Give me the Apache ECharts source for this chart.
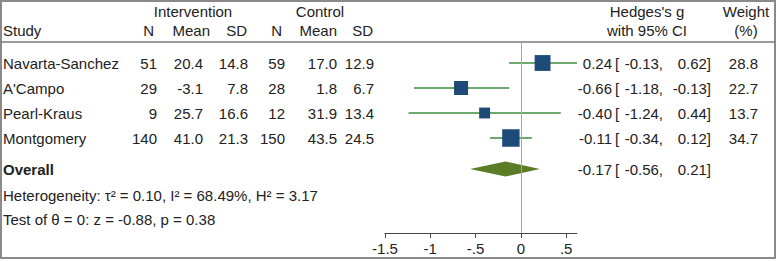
<!DOCTYPE html>
<html>
<head>
<meta charset="utf-8">
<script src="https://cdn.jsdelivr.net/npm/echarts@6/dist/echarts.min.js"></script>
<style>
  html, body { margin: 0; padding: 0; background: #fff; }
  #chart { width: 777px; height: 261px; }
</style>
</head>
<body>
<div id="chart"></div>
<script>
// studies
const studies = ['Navarta-Sanchez', "A'Campo", 'Pearl-Kraus', 'Montgomery'];
// intervention group
const intN = [51, 29, 9, 140];
const intMean = [20.4, -3.1, 25.7, 41.0];
const intSD = [14.8, 7.8, 16.6, 21.3];
// control group
const ctlN = [59, 28, 12, 150];
const ctlMean = [17.0, 1.8, 31.9, 43.5];
const ctlSD = [12.9, 6.7, 13.4, 24.5];
// Hedges's g with 95% CI, weight (%)
const hedgesG = [0.24, -0.66, -0.40, -0.11];
const ciLow = [-0.13, -1.18, -1.24, -0.34];
const ciHigh = [0.62, -0.13, 0.44, 0.12];
const weights = [28.8, 22.7, 13.7, 34.7];
// overall: estimate, low, high
const overall = [-0.17, -0.56, 0.21];
const heterogeneity = 'Heterogeneity: τ² = 0.10, I² = 68.49%, H² = 3.17';
const testText = 'Test of θ = 0: z = -0.88, p = 0.38';
// axis
const xTicks = [-1.5, -1, -0.5, 0, 0.5];
const xTickLabels = ['-1.5', '-1', '-.5', '0', '.5'];

const FONT = '15px "Liberation Sans", Arial, sans-serif';
const BOLD = 'bold 15px "Liberation Sans", Arial, sans-serif';
const TXT = '#222';
const overallRow = studies.length + 1.24;

function fmt(v, d) { return v.toFixed(d); }

function txt(x, y, s, align, font) {
    return {
        type: 'text', x: x, y: y, silent: true,
        style: {text: s, fill: TXT, font: font || FONT, align: align || 'left', verticalAlign: 'middle'}
    };
}

const chart = echarts.init(document.getElementById('chart'), null, {renderer: 'svg'});

const studyData = studies.map((s, i) => [hedgesG[i], i + 1, ciLow[i], ciHigh[i], weights[i], i]);

let option = {
    animation: false,
    grid: {left: 385, width: 192, top: 43, height: 190},
    xAxis: {
        type: 'value',
        min: -1.5,
        max: 0.62,
        splitLine: {show: false},
        axisLine: {show: true, onZero: false, lineStyle: {color: '#444', width: 1}},
        axisTick: {show: true, length: 5, customValues: xTicks, lineStyle: {color: '#444'}},
        axisLabel: {
            customValues: xTicks,
            margin: 8,
            color: TXT,
            fontSize: 15,
            fontFamily: '"Liberation Sans", Arial, sans-serif',
            formatter: v => xTickLabels[xTicks.findIndex(t => Math.abs(t - v) < 1e-6)]
        }
    },
    yAxis: {type: 'value', inverse: true, min: 0.2, max: 7.8, show: false},
    graphic: [
        // frame and header rule
        {type: 'rect', shape: {x: 1, y: 1, width: 774, height: 257}, style: {fill: 'none', stroke: '#8a8a8a', lineWidth: 2}, silent: true},
        {type: 'line', shape: {x1: 1, y1: 42, x2: 775, y2: 42}, style: {stroke: '#7a7a7a', lineWidth: 1.5}, silent: true},
        txt(193, 11, 'Intervention', 'center'),
        txt(320, 11, 'Control', 'center'),
        txt(647, 11, "Hedges's g", 'center'),
        txt(746, 11, 'Weight', 'center'),
        txt(3, 30, 'Study'),
        txt(154, 30, 'N', 'right'),
        txt(210, 30, 'Mean', 'right'),
        txt(247, 30, 'SD', 'right'),
        txt(282, 30, 'N', 'right'),
        txt(337, 30, 'Mean', 'right'),
        txt(373, 30, 'SD', 'right'),
        txt(647, 30, 'with 95% CI', 'center'),
        txt(746, 30, '(%)', 'center'),
        txt(3, 195, heterogeneity),
        txt(3, 219, testText)
    ],
    series: [{
        type: 'custom',
        clip: false,
        data: studyData,
        renderItem: function (params, api) {
            const i = api.value(5);
            const row = api.value(1);
            const c = api.coord([api.value(0), row]);
            const lo = api.coord([api.value(2), row])[0];
            const hi = api.coord([api.value(3), row])[0];
            const size = 2.95 * Math.sqrt(api.value(4));
            const y = c[1];
            return {
                type: 'group',
                children: [
                    {type: 'line', shape: {x1: lo, y1: y, x2: hi, y2: y}, style: {stroke: '#3d8b3d', lineWidth: 1.5}},
                    {type: 'rect', shape: {x: c[0] - size / 2, y: y - size / 2, width: size, height: size}, style: {fill: '#1d4a78'}},
                    txt(3, y, studies[i]),
                    txt(157, y, String(intN[i]), 'right'),
                    txt(203, y, fmt(intMean[i], 1), 'right'),
                    txt(248, y, fmt(intSD[i], 1), 'right'),
                    txt(285, y, String(ctlN[i]), 'right'),
                    txt(337, y, fmt(ctlMean[i], 1), 'right'),
                    txt(374, y, fmt(ctlSD[i], 1), 'right'),
                    txt(612, y, fmt(hedgesG[i], 2), 'right'),
                    txt(615, y, '['),
                    txt(663, y, fmt(ciLow[i], 2) + ',', 'right'),
                    txt(711, y, fmt(ciHigh[i], 2) + ']', 'right'),
                    txt(758, y, fmt(weights[i], 1), 'right')
                ]
            };
        },
        markLine: {
            silent: true,
            symbol: 'none',
            label: {show: false},
            lineStyle: {color: '#a8a8a8', width: 1, type: 'solid'},
            data: [{xAxis: 0}]
        },
        z: 3
    }, {
        type: 'custom',
        clip: false,
        data: [[overall[0], overallRow, overall[1], overall[2]]],
        renderItem: function (params, api) {
            const row = api.value(1);
            const c = api.coord([api.value(0), row]);
            const lo = api.coord([api.value(2), row])[0];
            const hi = api.coord([api.value(3), row])[0];
            const y = c[1];
            const h = 7.5;
            return {
                type: 'group',
                children: [
                    {type: 'polygon', shape: {points: [[lo, y], [c[0], y - h], [hi, y], [c[0], y + h]]}, style: {fill: '#5b7b27'}},
                    txt(3, y, 'Overall', 'left', BOLD),
                    txt(612, y, fmt(overall[0], 2), 'right'),
                    txt(615, y, '['),
                    txt(663, y, fmt(overall[1], 2) + ',', 'right'),
                    txt(711, y, fmt(overall[2], 2) + ']', 'right')
                ]
            };
        },
        z: 3
    }]
};

chart.setOption(option);
</script>
</body>
</html>
